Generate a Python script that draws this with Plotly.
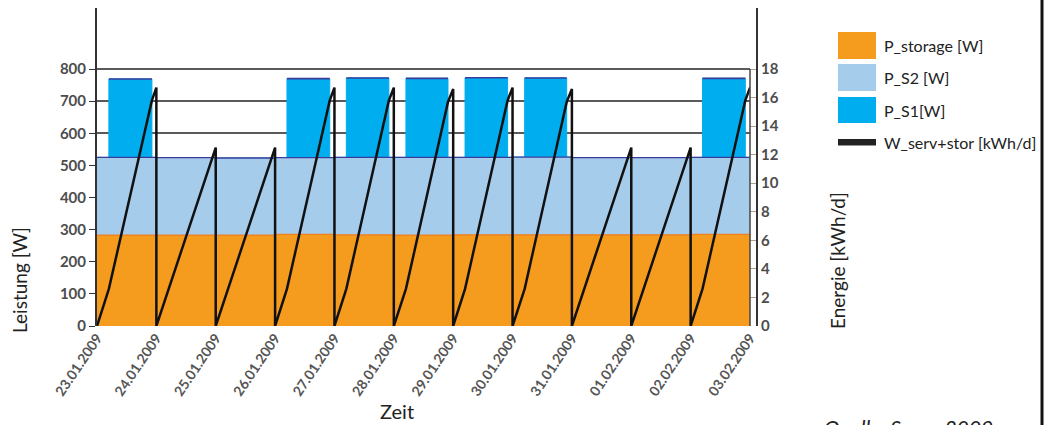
import plotly.graph_objects as go
import pandas as pd

# ---------------- data ----------------
days = ["2009-01-23", "2009-01-24", "2009-01-25", "2009-01-26", "2009-01-27", "2009-01-28",
        "2009-01-29", "2009-01-30", "2009-01-31", "2009-02-01", "2009-02-02"]
end_day = "2009-02-03"
tick_days = days + [end_day]

# power levels per day [W]
p_storage = [283, 283, 283, 285, 284, 283, 284, 284, 284, 284, 285]
p_s2 = [242, 241, 240, 239, 241, 242, 241, 242, 240, 240, 240]
p_s1 = [244, 0, 0, 246, 247, 246, 248, 246, 0, 0, 246]
s1_on_hour = [4.8, None, None, 4.8, 4.8, 4.9, 4.8, 4.9, None, None, 4.8]
s1_off_hour = [22.2, None, None, 22.1, 22.0, 21.9, 22.0, 21.9, None, None, 22.1]

# daily cumulative energy W_serv+stor [kWh/d]
w_at_on = [2.6, None, None, 2.6, 2.6, 2.6, 2.6, 2.6, None, None, 2.6]
w_at_off = [15.8, None, None, 15.8, 15.8, 15.7, 15.8, 15.7, None, None, 15.8]
w_peak = [16.7, 12.5, 12.5, 16.7, 16.7, 16.6, 16.7, 16.6, 12.5, 12.5, 16.7]

left_ticks = [0, 100, 200, 300, 400, 500, 600, 700, 800]
right_ticks = [0, 2, 4, 6, 8, 10, 12, 14, 16, 18]

# ---------------- build step series ----------------
t, st_tot, s2_tot, s1_tot = [], [], [], []
top_t, top_v = [], []
for i, d in enumerate(days):
    d0 = pd.Timestamp(d)
    base = p_storage[i] + p_s2[i]
    t.append(d0); st_tot.append(p_storage[i]); s2_tot.append(base); s1_tot.append(base)
    if p_s1[i] > 0:
        ton = d0 + pd.Timedelta(hours=s1_on_hour[i])
        toff = d0 + pd.Timedelta(hours=s1_off_hour[i])
        t.append(ton)
        st_tot.append(p_storage[i]); s2_tot.append(base); s1_tot.append(base + p_s1[i])
        t.append(toff)
        st_tot.append(p_storage[i]); s2_tot.append(base); s1_tot.append(base)
        top_t += [ton, toff, None]
        top_v += [base + p_s1[i], base + p_s1[i], None]
t.append(pd.Timestamp(end_day)); st_tot.append(p_storage[-1])
s2_tot.append(p_storage[-1] + p_s2[-1]); s1_tot.append(p_storage[-1] + p_s2[-1])

wt, wv = [], []
for i, d in enumerate(days):
    d0 = pd.Timestamp(d)
    d1 = d0 + pd.Timedelta(days=1)
    wt.append(d0); wv.append(0)
    if w_at_on[i] is not None:
        wt.append(d0 + pd.Timedelta(hours=s1_on_hour[i])); wv.append(w_at_on[i])
        wt.append(d0 + pd.Timedelta(hours=s1_off_hour[i])); wv.append(w_at_off[i])
    wt.append(d1); wv.append(w_peak[i])
    if i < len(days) - 1:
        wt.append(d1); wv.append(0)

C_ST = "#F59B1E"
C_S2 = "#A6CCEC"
C_S1 = "#00AEEF"
C_NAVY = "#3A3C9C"

fig = go.Figure()
fig.add_trace(go.Scatter(x=t, y=s1_tot, mode="lines", line=dict(shape="hv", color=C_S1, width=1),
                         fill="tozeroy", fillcolor=C_S1, showlegend=False, name="P_S1[W]"))
fig.add_trace(go.Scatter(x=top_t, y=top_v, mode="lines", line=dict(color=C_NAVY, width=1.6),
                         showlegend=False, hoverinfo="skip"))
fig.add_trace(go.Scatter(x=t, y=s2_tot, mode="lines", line=dict(shape="hv", color=C_NAVY, width=1.3),
                         fill="tozeroy", fillcolor=C_S2, showlegend=False, name="P_S2 [W]"))
fig.add_trace(go.Scatter(x=t, y=st_tot, mode="lines", line=dict(shape="hv", color="#EE7F22", width=1.2),
                         fill="tozeroy", fillcolor=C_ST, showlegend=False, name="P_storage [W]"))
fig.add_trace(go.Scatter(x=wt, y=wv, mode="lines", yaxis="y2", line=dict(color="#111111", width=2.5),
                         showlegend=False, name="W_serv+stor [kWh/d]"))

# pixel -> paper helpers (plot/paper area: x 97..757, y 8..326)
def px(x):
    return (x - 97) / 660.0

def py(y):
    return (326 - y) / 318.0

YMAX = 990
fig.update_layout(
    width=1045, height=425,
    margin=dict(l=97, r=288, t=8, b=99),
    paper_bgcolor="white", plot_bgcolor="white",
    font=dict(family="Lato", color="#222"),
    xaxis=dict(domain=[0, 653 / 660], type="date", range=[days[0], end_day],
               tickvals=tick_days, tickformat="%d.%m.%Y", tickangle=-56,
               tickfont=dict(size=14, color="#555555", weight="bold"),
               showgrid=False, showline=False, zeroline=False, ticks=""),
    yaxis=dict(range=[0, YMAX], tickvals=left_ticks, showgrid=True, gridcolor="#5a5a5a", gridwidth=1.5,
               showline=True, linecolor="#333", linewidth=2, ticks="outside", ticklen=6, tickcolor="#333",
               tickfont=dict(size=15, color="#4d4d4d", weight="bold"), zeroline=False),
    yaxis2=dict(range=[0, YMAX * 18 / 800], tickvals=right_ticks, overlaying="y", side="right",
                anchor="free", position=1, showgrid=False, showline=True, linecolor="#333", linewidth=2,
                ticks="inside", ticklen=6, tickcolor="#b0a090",
                tickfont=dict(size=15, color="#4d4d4d", weight="bold"), zeroline=False),
)

shapes = [
    # right frame of plotting box (0..800)
    dict(type="line", xref="x domain", yref="y", x0=1, x1=1, y0=0, y1=800,
         line=dict(color="#444", width=1.5), layer="above"),
    # image right border
    dict(type="line", xref="paper", yref="paper", x0=px(1042), x1=px(1042), y0=py(430), y1=py(-5),
         line=dict(color="#111", width=3)),
]
legend_items = [("P_storage [W]", C_ST, 32, 59), ("P_S2 [W]", C_S2, 64, 91), ("P_S1[W]", C_S1, 97, 123)]
annotations = []
for label, col, y0, y1 in legend_items:
    shapes.append(dict(type="rect", xref="paper", yref="paper", x0=px(838), x1=px(876), y0=py(y1), y1=py(y0),
                       fillcolor=col, line=dict(width=0)))
    annotations.append(dict(text=label, xref="paper", yref="paper", x=px(882), y=py((y0 + y1) / 2),
                            xanchor="left", yanchor="middle", showarrow=False, font=dict(size=16, color="#222")))
shapes.append(dict(type="rect", xref="paper", yref="paper", x0=px(838), x1=px(876), y0=py(145.5), y1=py(139),
                   fillcolor="#222", line=dict(width=0)))
annotations.append(dict(text="W_serv+stor [kWh/d]", xref="paper", yref="paper", x=px(882), y=py(142),
                        xanchor="left", yanchor="middle", showarrow=False, font=dict(size=16, color="#222")))

annotations += [
    dict(text="Leistung [W]", xref="paper", yref="paper", x=px(19), y=py(280), textangle=-90,
         showarrow=False, font=dict(size=19, color="#222"), xanchor="center", yanchor="middle"),
    dict(text="Energie [kWh/d]", xref="paper", yref="paper", x=px(837), y=py(260), textangle=-90,
         showarrow=False, font=dict(size=19, color="#222"), xanchor="center", yanchor="middle"),
    dict(text="Zeit", xref="paper", yref="paper", x=px(397), y=py(411),
         showarrow=False, font=dict(size=20, color="#222"), xanchor="center", yanchor="middle"),
    dict(text="<i>Quelle: Sauer 2009</i>", xref="paper", yref="paper", x=px(822), y=py(413),
         showarrow=False, font=dict(size=21, color="#222"), xanchor="left", yanchor="top"),
]
fig.update_layout(shapes=shapes, annotations=annotations)

fig.write_html("out.html", config={"displayModeBar": False},
               post_script="document.body.style.margin='0';document.body.style.padding='0';")
